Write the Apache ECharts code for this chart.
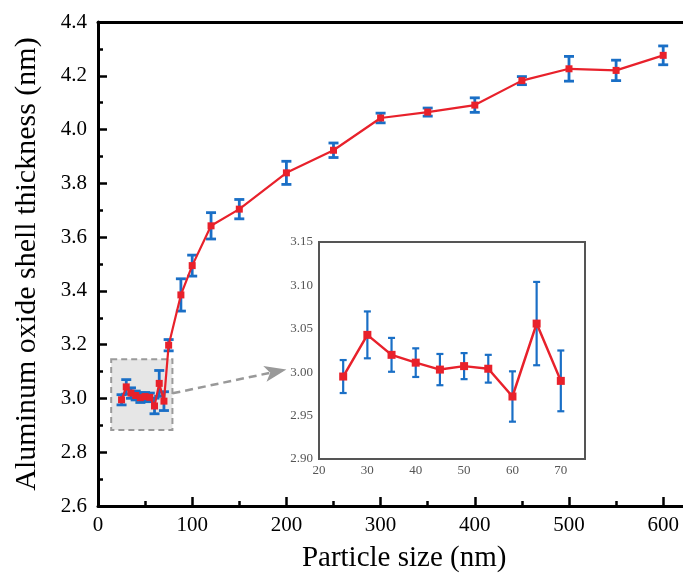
<!DOCTYPE html>
<html><head><meta charset="utf-8">
<script src="https://cdn.jsdelivr.net/npm/echarts@6/dist/echarts.min.js"></script>
<style>html,body{margin:0;padding:0;overflow:hidden;background:#fff}#c{width:720px;height:578px}</style>
</head><body><div id="c"></div>
<script>
// Particle size (nm)
const sizes = [25, 30, 35, 40, 45, 50, 55, 60, 65, 70, 75, 88, 100, 120, 150, 200, 250, 300, 350, 400, 450, 500, 550, 600];
// Aluminum oxide shell thickness (nm)
const thickness = [2.995, 3.043, 3.020, 3.011, 3.003, 3.007, 3.004, 2.972, 3.056, 2.990, 3.198, 3.385, 3.494, 3.642, 3.704, 3.839, 3.923, 4.043, 4.065, 4.091, 4.182, 4.226, 4.220, 4.276];
// error (+/-)
const errors = [0.019, 0.027, 0.0195, 0.0165, 0.018, 0.015, 0.016, 0.029, 0.048, 0.035, 0.021, 0.060, 0.039, 0.049, 0.036, 0.043, 0.027, 0.018, 0.015, 0.027, 0.015, 0.046, 0.038, 0.035];
const insetMaxSize = 70;
const zoomBox = [[14, 3.146], [79, 2.883]];
const arrowFrom = [79, 3.019];
const arrowTo = [200, 3.108];

const mainData = sizes.map((s, i) => [s, thickness[i], errors[i]]);
const insetData = mainData.filter(d => d[0] <= insetMaxSize);

const RED = '#e8212b', BLUE = '#1a6fc6';
const SERIF = 'Liberation Serif';

function errRender(cap, lw) {
  return function (params, api) {
    const x = api.value(0), y = api.value(1), e = api.value(2);
    const p1 = api.coord([x, y + e]), p2 = api.coord([x, y - e]);
    const st = { stroke: BLUE, lineWidth: lw };
    return { type: 'group', children: [
      { type: 'line', shape: { x1: p1[0], y1: p1[1], x2: p2[0], y2: p2[1] }, style: st },
      { type: 'line', shape: { x1: p1[0] - cap, y1: p1[1], x2: p1[0] + cap, y2: p1[1] }, style: st },
      { type: 'line', shape: { x1: p2[0] - cap, y1: p2[1], x2: p2[0] + cap, y2: p2[1] }, style: st }
    ]};
  };
}

const chart = echarts.init(document.getElementById('c'), null, { renderer: 'canvas' });
chart.setOption({
  animation: false,
  backgroundColor: '#fff',
  grid: [
    { left: 98, top: 22, width: 612.3, bottom: 70 },
    { left: 319, top: 242, width: 266, height: 217, show: true, backgroundColor: '#fff', borderColor: '#555', borderWidth: 2, z: 5 }
  ],
  xAxis: [
    { gridIndex: 0, type: 'value', min: 0, max: 650, interval: 100,
      name: 'Particle size (nm)', nameLocation: 'middle', nameGap: 38,
      nameTextStyle: { fontFamily: SERIF, fontSize: 29, color: '#000' },
      axisLine: { lineStyle: { color: '#000', width: 3 } },
      axisTick: { inside: true, length: 9, lineStyle: { width: 2.5, color: '#000' } },
      minorTick: { show: true, splitNumber: 2, length: 5, lineStyle: { width: 2.5, color: '#000' } },
      axisLabel: { fontFamily: SERIF, fontSize: 21, color: '#000', margin: 9,
        formatter: v => (v % 100 === 0 && v <= 600) ? String(v) : '' },
      splitLine: { show: false } },
    { gridIndex: 0, type: 'value', position: 'top', min: 0, max: 650,
      axisLine: { onZero: false, lineStyle: { color: '#000', width: 3 } },
      axisTick: { show: false }, axisLabel: { show: false }, splitLine: { show: false } },
    { gridIndex: 1, type: 'value', min: 20, max: 75, interval: 10,
      axisLine: { lineStyle: { color: '#555', width: 2 } },
      axisTick: { inside: true, length: 4, lineStyle: { width: 1.5, color: '#333' } },
      minorTick: { show: true, splitNumber: 2, length: 2, lineStyle: { width: 1.5, color: '#333' } },
      axisLabel: { fontFamily: SERIF, fontSize: 13, color: '#555', margin: 5,
        formatter: v => (v % 10 === 0 && v <= 70) ? String(v) : '' },
      splitLine: { show: false } }
  ],
  yAxis: [
    { gridIndex: 0, type: 'value', min: 2.6, max: 4.4, interval: 0.2,
      name: 'Aluminum oxide shell thickness (nm)', nameLocation: 'middle', nameGap: 56,
      nameTextStyle: { fontFamily: SERIF, fontSize: 30, color: '#000' },
      axisLine: { lineStyle: { color: '#000', width: 3 } },
      axisTick: { inside: true, length: 9, lineStyle: { width: 2.5, color: '#000' } },
      minorTick: { show: true, splitNumber: 2, length: 5, lineStyle: { width: 2.5, color: '#000' } },
      axisLabel: { fontFamily: SERIF, fontSize: 21, color: '#000', margin: 11, formatter: v => v.toFixed(1) },
      splitLine: { show: false } },
    { gridIndex: 1, type: 'value', min: 2.9, max: 3.15, interval: 0.05,
      axisLine: { lineStyle: { color: '#555', width: 2 } },
      axisTick: { inside: true, length: 4, lineStyle: { width: 1.5, color: '#333' } },
      minorTick: { show: false },
      axisLabel: { fontFamily: SERIF, fontSize: 13, color: '#555', margin: 6, formatter: v => v.toFixed(2) },
      splitLine: { show: false } }
  ],
  series: [
    { type: 'line', xAxisIndex: 0, yAxisIndex: 0, data: [], z: 1, silent: true,
      markArea: { silent: true,
        itemStyle: { color: '#e6e6e6', borderColor: '#9a9a9a', borderWidth: 2, borderType: [6, 4] },
        data: [[{ coord: zoomBox[0] }, { coord: zoomBox[1] }]] },
      markLine: { silent: true, symbol: ['none', 'arrow'], symbolSize: [12, 22],
        label: { show: false },
        lineStyle: { color: '#999', width: 2.5, type: [8, 5] },
        data: [[{ coord: arrowFrom }, { coord: arrowTo }]] } },
    { type: 'custom', xAxisIndex: 0, yAxisIndex: 0, data: mainData, z: 2,
      renderItem: errRender(5, 2.8), encode: { x: 0, y: 1 } },
    { type: 'line', xAxisIndex: 0, yAxisIndex: 0, data: mainData.map(d => [d[0], d[1]]), z: 3,
      symbol: 'rect', symbolSize: 7, showSymbol: true,
      lineStyle: { color: RED, width: 2.2 }, itemStyle: { color: RED } },
    { type: 'custom', xAxisIndex: 2, yAxisIndex: 1, data: insetData, z: 6,
      renderItem: errRender(3.5, 2.2), encode: { x: 0, y: 1 } },
    { type: 'line', xAxisIndex: 2, yAxisIndex: 1, data: insetData.map(d => [d[0], d[1]]), z: 7,
      symbol: 'rect', symbolSize: 8, showSymbol: true,
      lineStyle: { color: RED, width: 2.5 }, itemStyle: { color: RED } }
  ]
});
</script></body></html>
